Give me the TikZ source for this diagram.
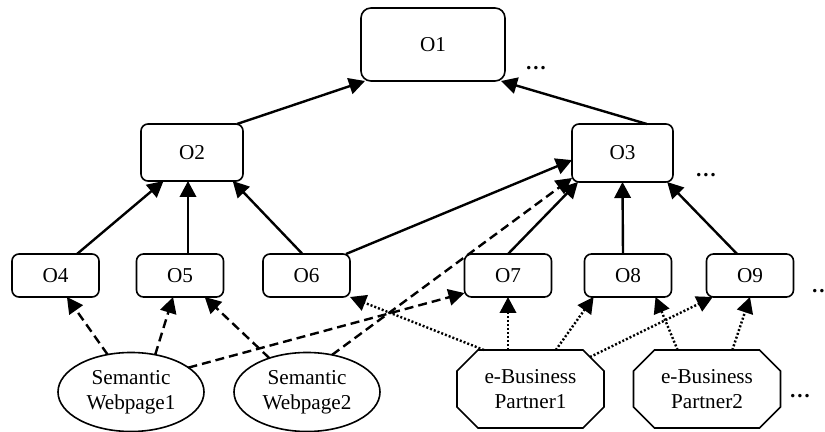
\documentclass[tikz,border=0pt]{standalone}
\usepackage{fontspec}
\setmainfont{Liberation Serif}
\usetikzlibrary{arrows.meta,shapes.geometric}

\begin{document}
\begin{tikzpicture}[x=.5pt,y=-.5pt,font=\fontsize{10.6}{12.5}\selectfont,
  obox/.style={draw,rounded corners=3.5pt,line width=.8pt,minimum width=43.5pt,
    minimum height=21.5pt,inner sep=1pt,outer sep=0pt},
  webnode/.style={draw,ellipse,line width=.8pt,minimum width=73pt,minimum height=39.5pt,
    inner sep=1pt,outer sep=0pt,align=center},
  biznode/.style={minimum width=73.5pt,minimum height=39pt,inner sep=1pt,outer sep=0pt,
    align=center,append after command={\pgfextra{
      \draw[line width=.8pt] ([xshift=10.5pt]\tikzlastnode.north west)
        -- ([xshift=-10.5pt]\tikzlastnode.north east)
        -- ([yshift=-10.5pt]\tikzlastnode.north east)
        -- ([yshift=10.5pt]\tikzlastnode.south east)
        -- ([xshift=-10.5pt]\tikzlastnode.south east)
        -- ([xshift=10.5pt]\tikzlastnode.south west)
        -- ([yshift=10.5pt]\tikzlastnode.south west)
        -- ([yshift=-10.5pt]\tikzlastnode.north west) -- cycle;}}},
  dotsnode/.style={font=\fontsize{10.6}{12.5}\selectfont\bfseries},
  link/.style={line width=1.2pt,-{Triangle[length=8pt,width=8.2pt]}},
  weblink/.style={link,dash pattern=on 4.5pt off 2.5pt},
  bizlink/.style={link,dash pattern=on 1pt off 1pt}]
  \useasboundingbox (0,0) rectangle (825,432);

  % ontologies
  \node[obox,rounded corners=5pt,minimum width=72pt,minimum height=36.5pt] (o1) at (433,44.5) {O1};
  \node[obox,minimum width=51pt,minimum height=28.5pt] (o2) at (192,152.5) {O2};
  \node[obox,minimum width=50.5pt,minimum height=29pt] (o3) at (622.5,153) {O3};
  \node[obox] (o4) at (55.5,275.5) {O4};
  \node[obox] (o5) at (180,275.5) {O5};
  \node[obox] (o6) at (306.5,275.5) {O6};
  \node[obox] (o7) at (508,275.5) {O7};
  \node[obox] (o8) at (628,275.5) {O8};
  \node[obox] (o9) at (750,275.5) {O9};

  % sources
  \node[webnode] (web1) at (131,392) {Semantic\\Webpage1};
  \node[webnode] (web2) at (307,392) {Semantic\\Webpage2};
  \node[biznode] (biz1) at (530.5,389) {e-Business\\Partner1};
  \node[biznode] (biz2) at (707,389) {e-Business\\Partner2};

  \node[dotsnode] (dots1) at (536,68) {\dots};
  \node[dotsnode] (dots2) at (706,175) {\dots};
  \node[dotsnode,anchor=west,inner sep=0pt] (dots3) at (811,291) {\dots};
  \node[dotsnode] (dots4) at (800,396) {\dots};

  % hierarchy
  \draw[link] ([xshift=-3pt]o2.north east) -- ([xshift=2pt]o1.south west);
  \draw[link] (o3.50) -- ([xshift=-2pt]o1.south east);
  \draw[link] (o4.45) -- (o2.225);
  \draw[link] ([xshift=4pt]o5.north) -- ([xshift=-2pt]o2.south);
  \draw[link] ([xshift=-2pt]o6.north) -- (o2.-35);
  \draw[link] ([xshift=-2pt]o6.north east) -- (o3.188);
  \draw[link] (o7.north) -- ([xshift=3pt]o3.south west);
  \draw[link] ([xshift=-2.5pt]o8.north) -- (o3.south);
  \draw[link] (o9.121) -- (o3.-33);

  % webpages
  \draw[weblink] (web1.122) -- (o4.-62);
  \draw[weblink] (web1.57) -- (o5.252);
  \draw[weblink] (web1.23) -- (o7.202);
  \draw[weblink] (web2.138) -- (o5.-41);
  \draw[weblink] (web2.56) -- ([yshift=2pt]o3.south west);

  % partners
  \draw[bizlink] (biz1.140) -- (o6.south east);
  \draw[bizlink] ([xshift=-11.25pt]biz1.north) -- (o7.south);
  \draw[bizlink] (biz1.57) -- (o8.212);
  \draw[bizlink] ([shift={(29.75pt,16pt)}]biz1.center) -- (o9.210);
  \draw[bizlink] (biz2.127) -- (o8.-38);
  \draw[bizlink] (biz2.57) -- (o9.south);
\end{tikzpicture}
\end{document}
